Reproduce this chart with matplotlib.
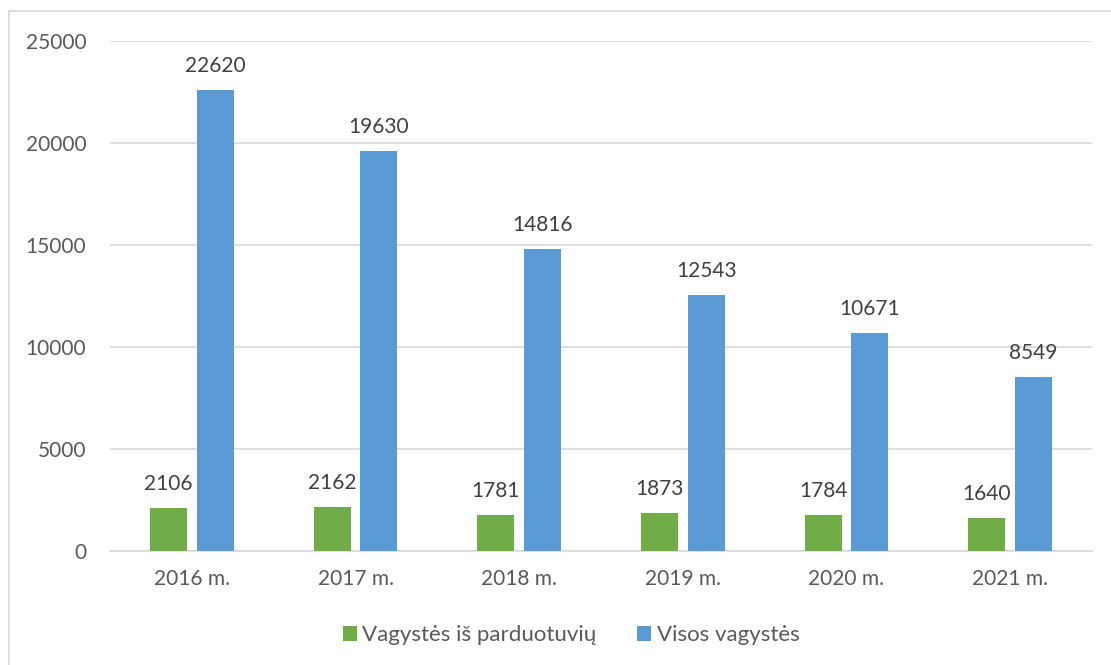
import matplotlib
matplotlib.use("Agg")
import matplotlib.pyplot as plt
from matplotlib.patches import Rectangle
import numpy as np

years = ["2016 m.", "2017 m.", "2018 m.", "2019 m.", "2020 m.", "2021 m."]
shop_thefts = [2106, 2162, 1781, 1873, 1784, 1640]
all_thefts = [22620, 19630, 14816, 12543, 10671, 8549]
series_names = ["Vagystės iš parduotuvių", "Visos vagystės"]
yticks = [0, 5000, 10000, 15000, 20000, 25000]

plt.rcParams['font.family'] = ['Lato', 'DejaVu Sans']
txt = '#595959'
green = '#70AD47'
blue = '#5B9BD5'

fig = plt.figure(figsize=(11.11, 6.65), dpi=100)
fig.patches.append(Rectangle((9/1111, -0.05), 1.1, 1 - 11/665 + 0.05, transform=fig.transFigure,
                             fill=False, edgecolor='#D9D9D9', linewidth=1.2))
ax = fig.add_axes([110/1111, 1 - 551/665, (1092 - 110)/1111, (551 - 41)/665])

x = np.arange(len(years))
w = 0.225
off = 0.143
b1 = ax.bar(x - off, shop_thefts, w, color=green, label=series_names[0], zorder=3)
b2 = ax.bar(x + off, all_thefts, w, color=blue, label=series_names[1], zorder=3)

for bars in (b1, b2):
    for r in bars:
        h = r.get_height()
        ax.annotate(f"{int(h)}", (r.get_x() + r.get_width()/2, h), xytext=(0, 10),
                    textcoords='offset points', ha='center', va='bottom',
                    fontsize=15, color='#404040')

ax.set_xlim(-0.5, len(years) - 0.5)
ax.set_ylim(0, 25000)
ax.set_yticks(yticks)
ax.set_yticklabels([str(t) for t in yticks])
ax.set_xticks(x)
ax.set_xticklabels(years)
ax.yaxis.grid(True, color='#D9D9D9', linewidth=1.2, zorder=0)
ax.set_axisbelow(True)
for s in ['top', 'right', 'left']:
    ax.spines[s].set_visible(False)
ax.spines['bottom'].set_color('#D9D9D9')
ax.spines['bottom'].set_linewidth(1.2)
ax.tick_params(axis='both', length=0, labelsize=15, colors=txt)
ax.tick_params(axis='y', pad=17)
ax.tick_params(axis='x', pad=13)

fig.legend(handles=[b1, b2], labels=series_names, loc='center', bbox_to_anchor=(571/1111, 1 - 635/665),
           ncol=2, frameon=False, fontsize=16, labelcolor=txt, handlelength=0.65, handleheight=0.65,
           handletextpad=0.25, columnspacing=1.8)

fig.savefig("out.png", dpi=100)
